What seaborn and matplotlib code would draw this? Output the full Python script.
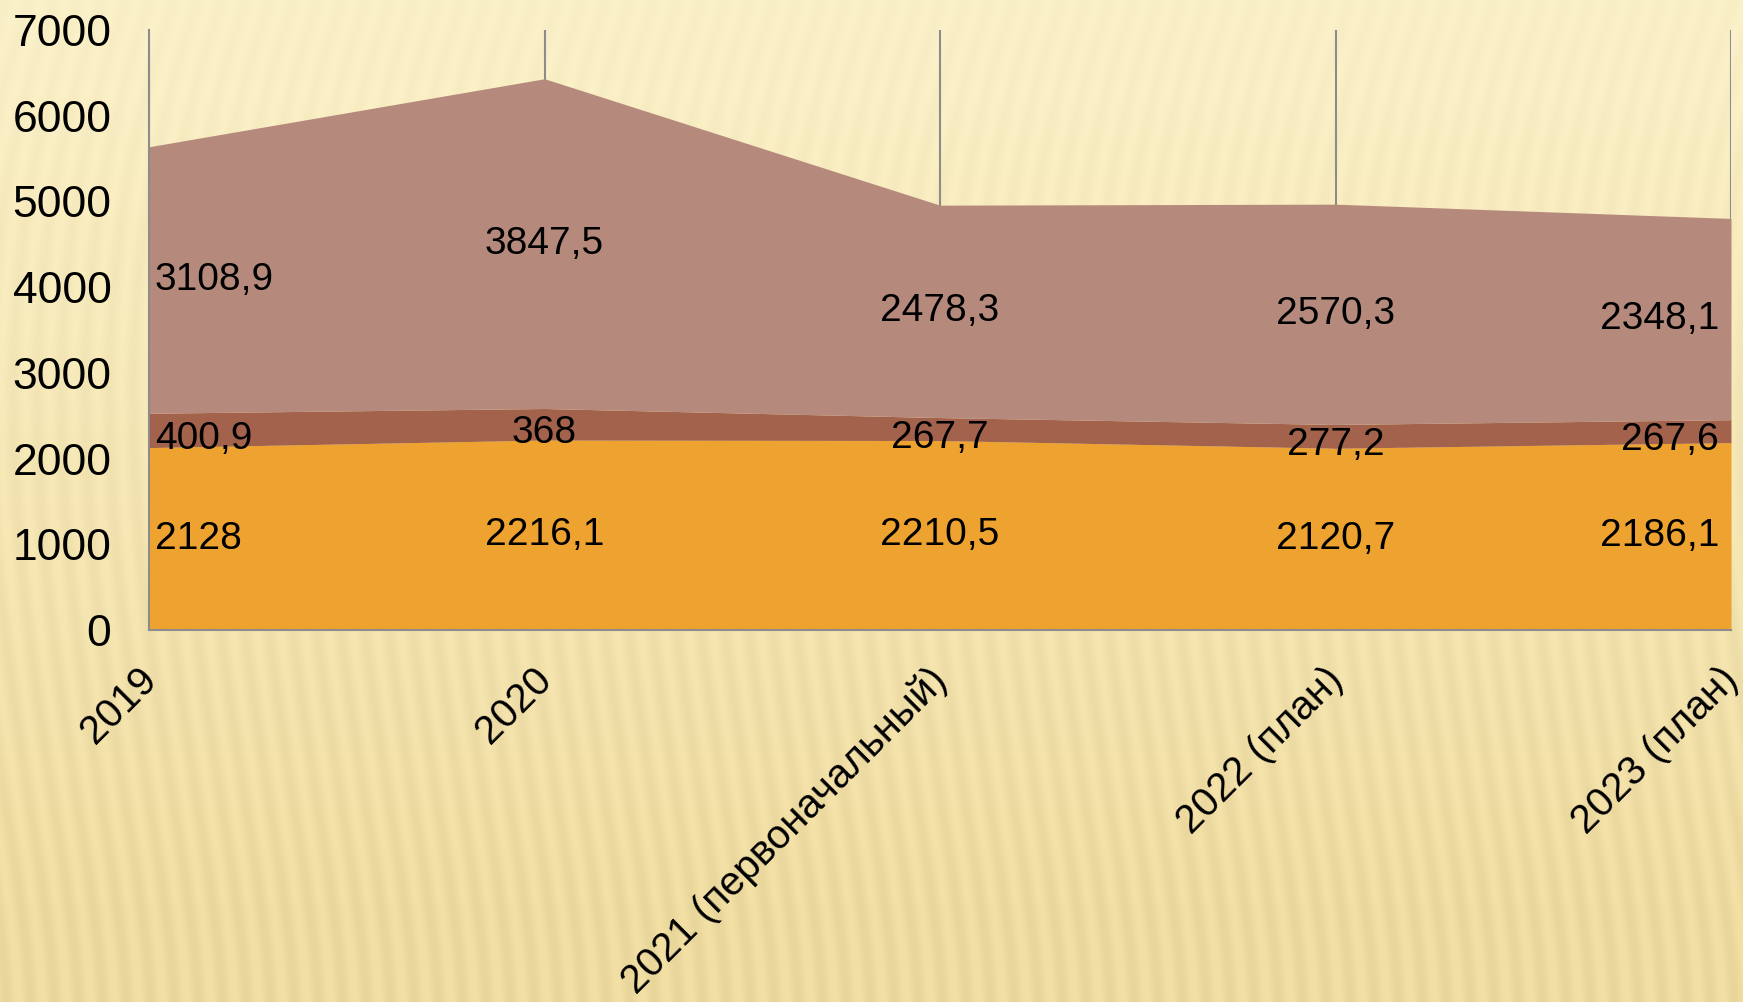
import numpy as np
import matplotlib
matplotlib.use("Agg")
import matplotlib.pyplot as plt
import matplotlib.transforms as mtransforms
import seaborn as sns

# ---- data ----
categories = ["2019", "2020", "2021 (первоначальный)", "2022 (план)", "2023 (план)"]
series_bottom = [2128, 2216.1, 2210.5, 2120.7, 2186.1]
series_middle = [400.9, 368, 267.7, 277.2, 267.6]
series_top = [3108.9, 3847.5, 2478.3, 2570.3, 2348.1]
label_bottom = ["2128", "2216,1", "2210,5", "2120,7", "2186,1"]
label_middle = ["400,9", "368", "267,7", "277,2", "267,6"]
label_top = ["3108,9", "3847,5", "2478,3", "2570,3", "2348,1"]
y_ticks = [0, 1000, 2000, 3000, 4000, 5000, 6000, 7000]

colors = ["#EEA22F", "#A3624C", "#B58A7D"]

sns.set_style("white")
plt.rcParams['font.family'] = ['Liberation Sans', 'DejaVu Sans']

W, H, DPI = 1743, 1002, 100
fig = plt.figure(figsize=(W / DPI, H / DPI), dpi=DPI)

# ---- decorative striped paper background ----
yy, xx = np.mgrid[0:H, 0:W].astype(float)
t = yy / H
slant = 0.35 * (1 - t) ** 1.5
phase = (xx + slant * yy) / 24.0
stripe = 0.5 + 0.5 * np.sin(2 * np.pi * phase)
top_c = np.array([252, 242, 202]) / 255.0
bot_c = np.array([243, 224, 165]) / 255.0
mix = np.clip(t * 1.1, 0, 1)[..., None]
base = top_c * (1 - mix) + bot_c * mix
amp = (0.015 + 0.025 * t)[..., None]
img = base - amp * stripe[..., None]
img = np.clip(img, 0, 1)
bg = fig.figimage(img, xo=0, yo=0, origin='upper')
bg.set_zorder(-10)

ax = fig.add_axes([149 / W, 1 - 630 / H, (1731 - 149) / W, (630 - 30) / H])
ax.set_zorder(1)
ax.set_facecolor("none")

x = np.arange(len(categories))
ax.stackplot(x, series_bottom, series_middle, series_top, colors=colors,
             linewidth=0, zorder=2)

ax.set_xlim(0, len(categories) - 1)
ax.set_ylim(0, 7000)
ax.set_yticks(y_ticks)
ax.set_yticklabels([str(v) for v in y_ticks], fontsize=32, color="black")
ax.tick_params(axis='y', length=0, pad=27)
ax.set_xticks(x)
ax.set_xticklabels(categories, fontsize=29, color="black", rotation=45,
                   ha='right', va='top', rotation_mode='anchor')
ax.tick_params(axis='x', length=0, pad=22)
offset = mtransforms.ScaledTranslation(-12 / DPI, 0, fig.dpi_scale_trans)
for lbl in ax.get_xticklabels():
    lbl.set_transform(lbl.get_transform() + offset)

ax.grid(axis='x', color="#8C8C8C", linewidth=1.5, zorder=1)
ax.grid(axis='y', visible=False)
ax.set_axisbelow(True)
for s in ["top", "right"]:
    ax.spines[s].set_visible(False)
for s in ["left", "bottom"]:
    ax.spines[s].set_color("#8C8C8C")
    ax.spines[s].set_linewidth(1.5)

# ---- data labels ----
bottom = np.array(series_bottom)
middle = np.array(series_middle)
top = np.array(series_top)
mids = [bottom / 2, bottom + middle / 2 - 100, bottom + middle + top / 2]
texts = [label_bottom, label_middle, label_top]
n = len(categories)
for mid, labs in zip(mids, texts):
    for i in range(n):
        if i == 0:
            ha, dx = 'left', 6
        elif i == n - 1:
            ha, dx = 'right', -12
        else:
            ha, dx = 'center', 0
        tr = ax.transData + mtransforms.ScaledTranslation(dx / DPI, 0, fig.dpi_scale_trans)
        ax.text(i, mid[i], labs[i], ha=ha, va='center', fontsize=28,
                color="black", transform=tr, zorder=5)

fig.savefig("out.png", dpi=DPI)
